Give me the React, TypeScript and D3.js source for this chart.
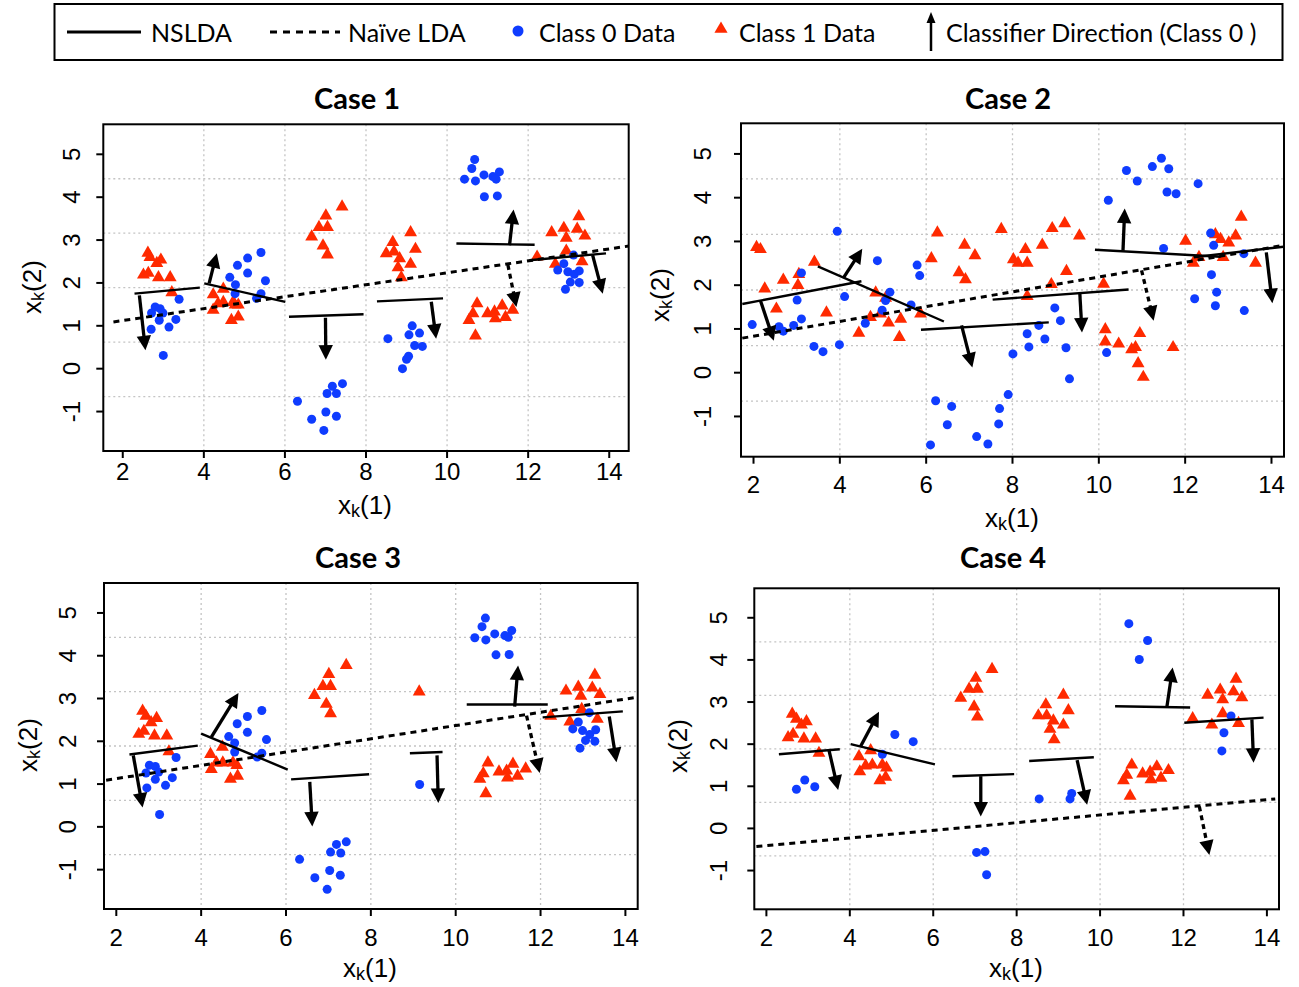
import React from "react";
import * as d3 from "d3";

type Pt = [number, number];
type Seg = [number, number, number, number];

// ---- Case 1 ----
const case1Class0: Pt[] = [
  [2.80, 1.44], [2.92, 1.40], [2.71, 1.30], [2.99, 1.30], [2.90, 1.13], [3.31, 1.15], [3.39, 1.62], [3.14, 0.97], [2.70, 0.92], [3.00, 0.31],
  [5.41, 2.71], [5.08, 2.58], [4.83, 2.41], [5.08, 2.23], [4.64, 2.13], [4.78, 1.96], [5.52, 2.05], [4.77, 1.75], [5.41, 1.75], [5.30, 1.64],
  [6.31, -0.76], [7.42, -0.35], [7.17, -0.41], [7.04, -0.58], [7.27, -0.58], [6.66, -1.18], [7.01, -1.01], [7.27, -1.11], [6.96, -1.44],
  [8.54, 0.70], [9.14, 1.00], [9.06, 0.79], [9.32, 0.83], [9.20, 0.54], [9.39, 0.52], [9.05, 0.29], [9.00, 0.22], [8.90, 0.00],
  [10.68, 4.88], [10.61, 4.67], [10.43, 4.42], [10.70, 4.38], [10.91, 4.52], [11.13, 4.48], [11.29, 4.59], [11.21, 4.42], [10.92, 4.01], [11.24, 4.03],
  [13.12, 2.65], [12.88, 2.45], [12.73, 2.30], [12.98, 2.26], [13.14, 2.20], [13.26, 2.28], [13.04, 2.02], [13.26, 2.01], [12.92, 1.85],
];
const case1Class1: Pt[] = [
  [2.62, 2.71], [2.67, 2.61], [2.84, 2.47], [2.94, 2.55], [2.51, 2.20], [2.63, 2.24], [2.88, 2.14], [3.17, 2.14], [3.21, 1.79],
  [4.23, 1.74], [4.48, 1.87], [4.23, 1.38], [4.35, 1.53], [4.48, 1.56], [4.72, 1.56], [4.77, 1.50], [4.85, 1.50], [4.68, 1.14], [4.85, 1.22],
  [7.41, 3.79], [7.01, 3.58], [6.84, 3.31], [7.05, 3.31], [6.66, 3.09], [6.94, 2.88], [7.05, 2.67],
  [8.50, 2.70], [8.66, 2.96], [8.69, 2.74], [8.83, 2.58], [9.10, 3.19], [9.22, 2.80], [9.10, 2.45], [8.79, 2.37], [8.87, 2.14],
  [10.74, 1.53], [10.64, 1.30], [10.54, 1.14], [11.00, 1.30], [11.17, 1.34], [11.36, 1.48], [11.19, 1.18], [11.44, 1.21], [11.62, 1.38], [10.70, 0.78],
  [13.25, 3.56], [12.58, 3.19], [12.88, 3.29], [13.21, 3.27], [12.94, 3.06], [13.40, 3.11], [12.22, 2.62], [12.94, 2.76], [12.67, 2.45], [13.33, 2.51],
];
const case1Nslda: Seg[] = [
  [2.29, 1.75, 3.90, 1.89], [4.01, 1.99, 6.01, 1.56], [6.10, 1.21, 7.94, 1.27],
  [8.27, 1.57, 9.90, 1.64], [10.23, 2.92, 12.16, 2.89], [12.03, 2.53, 13.92, 2.69],
];
const case1Dir: Seg[] = [
  [2.41, 1.71, 2.56, 0.43], [4.13, 1.99, 4.32, 2.69], [7.00, 1.19, 7.01, 0.21],
  [9.61, 1.56, 9.73, 0.70], [11.54, 2.88, 11.64, 3.71], [13.59, 2.65, 13.84, 1.75],
];
const case1Naive: Seg = [1.77, 1.09, 14.48, 2.86];
const case1NaiveDir: Seg = [11.50, 2.42, 11.71, 1.44];

// ---- Case 2 ----
const case2Class0: Pt[] = [
  [1.97, 1.10], [2.59, 1.05], [2.69, 0.95], [2.93, 1.08], [3.11, 1.23], [3.01, 1.66], [3.11, 2.28], [3.40, 0.60], [3.61, 0.48], [3.99, 0.64],
  [3.94, 3.23], [4.11, 1.74], [4.59, 1.13], [4.87, 2.56], [4.98, 1.43], [5.06, 1.65], [5.16, 1.84], [5.65, 1.55], [5.79, 2.46], [5.85, 2.22],
  [6.10, -1.65], [6.22, -0.64], [6.49, -1.19], [6.59, -0.77], [7.17, -1.46], [7.43, -1.63], [7.68, -1.17], [7.70, -0.82], [7.90, -0.50],
  [8.01, 0.43], [8.34, 0.89], [8.38, 0.59], [8.61, 1.08], [8.75, 0.77], [8.98, 1.48], [9.11, 1.19], [9.24, 0.57], [9.32, -0.14], [10.18, 0.46],
  [10.22, 3.94], [10.64, 4.62], [10.89, 4.38], [11.24, 4.71], [11.45, 4.90], [11.62, 4.66], [11.58, 4.13], [11.79, 4.09], [12.30, 4.32],
  [11.50, 2.84], [12.59, 3.19], [12.66, 2.91], [12.61, 2.24], [12.73, 1.84], [12.22, 1.69], [12.70, 1.53], [13.36, 2.72], [13.37, 1.42],
];
const case2Class1: Pt[] = [
  [2.07, 2.88], [2.16, 2.83], [2.26, 1.93], [2.53, 1.47], [2.69, 2.13], [3.05, 2.26], [3.03, 2.01], [3.41, 2.54], [3.69, 1.38], [4.44, 0.92],
  [4.71, 1.28], [4.83, 1.84], [4.94, 1.36], [5.06, 1.72], [5.13, 1.15], [5.41, 1.24], [5.38, 0.82], [5.87, 1.36], [6.12, 2.62], [6.26, 3.21],
  [6.76, 2.30], [6.89, 2.93], [6.91, 2.14], [7.13, 2.69], [7.74, 3.29], [8.02, 2.60], [8.30, 2.83], [8.13, 2.52], [8.34, 2.52], [8.34, 1.76],
  [8.92, 3.31], [9.21, 3.42], [9.55, 3.14], [8.69, 2.93], [8.90, 2.03], [9.25, 2.33], [10.11, 2.04], [10.15, 1.00], [10.15, 0.72], [10.46, 0.67],
  [10.76, 0.54], [10.85, 0.59], [10.95, 0.91], [10.91, 0.22], [11.03, -0.09], [11.72, 0.59], [12.01, 3.02], [12.32, 2.65], [12.19, 2.52],
  [12.70, 3.17], [12.82, 3.06], [13.01, 2.98], [13.17, 3.14], [13.30, 3.57], [12.88, 2.65], [13.63, 2.52],
];
const case2Nslda: Seg[] = [
  [1.74, 1.57, 4.50, 2.09], [3.49, 2.43, 6.41, 1.17], [5.88, 0.98, 8.84, 1.15],
  [7.54, 1.67, 10.69, 1.90], [9.91, 2.81, 12.82, 2.65], [12.20, 2.64, 14.28, 2.88],
];
const case2Dir: Seg[] = [
  [2.16, 1.65, 2.47, 0.73], [4.09, 2.18, 4.52, 2.83], [6.82, 1.08, 7.07, 0.12],
  [9.56, 1.80, 9.61, 0.92], [10.56, 2.79, 10.60, 3.75], [13.88, 2.75, 14.02, 1.59],
];
const case2Naive: Seg = [1.74, 0.79, 14.28, 2.91];
const case2NaiveDir: Seg = [10.99, 2.34, 11.27, 1.19];

// ---- Case 3 ----
const case3Class0: Pt[] = [
  [2.78, 1.44], [2.92, 1.41], [2.70, 1.26], [3.00, 1.28], [2.92, 1.11], [3.32, 1.15], [3.41, 1.62], [3.16, 0.97], [2.72, 0.91], [3.02, 0.29],
  [5.43, 2.72], [5.09, 2.58], [4.85, 2.41], [5.09, 2.21], [4.65, 2.11], [4.79, 1.96], [5.54, 2.04], [4.79, 1.75], [5.43, 1.72], [5.32, 1.63],
  [6.32, -0.76], [7.42, -0.35], [7.19, -0.41], [7.05, -0.59], [7.29, -0.61], [6.68, -1.19], [7.03, -1.02], [7.28, -1.13], [6.97, -1.46],
  [9.15, 0.99],
  [10.70, 4.88], [10.62, 4.68], [10.45, 4.42], [10.71, 4.37], [10.92, 4.51], [11.16, 4.47], [11.32, 4.59], [11.24, 4.43], [10.95, 4.02], [11.26, 4.03],
  [13.15, 2.67], [12.89, 2.45], [12.76, 2.29], [12.99, 2.25], [13.16, 2.16], [13.30, 2.27], [13.06, 2.02], [13.28, 2.00], [12.93, 1.84],
];
const case3Class1: Pt[] = [
  [2.62, 2.72], [2.70, 2.60], [2.82, 2.45], [2.95, 2.55], [2.53, 2.18], [2.65, 2.25], [2.90, 2.14], [3.19, 2.14], [3.24, 1.77],
  [4.22, 1.71], [4.50, 1.88], [4.24, 1.36], [4.36, 1.51], [4.51, 1.51], [4.75, 1.51], [4.84, 1.45], [4.69, 1.13], [4.86, 1.20],
  [7.42, 3.79], [7.01, 3.58], [6.87, 3.30], [7.05, 3.30], [6.67, 3.09], [6.95, 2.88], [7.05, 2.66],
  [9.14, 3.17],
  [10.76, 1.51], [10.65, 1.26], [10.57, 1.13], [11.02, 1.30], [11.20, 1.32], [11.35, 1.48], [11.22, 1.16], [11.46, 1.20], [11.65, 1.37], [10.71, 0.79],
  [13.28, 3.56], [12.60, 3.19], [12.89, 3.28], [13.22, 3.26], [12.95, 3.07], [13.40, 3.11], [12.24, 2.60], [12.97, 2.76], [12.69, 2.47], [13.34, 2.53],
];
const case3Nslda: Seg[] = [
  [2.31, 1.69, 3.92, 1.90], [4.00, 2.18, 6.04, 1.34], [6.12, 1.11, 7.96, 1.23],
  [8.92, 1.72, 9.69, 1.75], [10.26, 2.86, 12.17, 2.86], [12.05, 2.56, 13.94, 2.70],
];
const case3Dir: Seg[] = [
  [2.40, 1.67, 2.62, 0.45], [4.24, 2.10, 4.88, 3.13], [6.56, 1.05, 6.62, 0.01],
  [9.56, 1.67, 9.59, 0.56], [11.39, 2.81, 11.47, 3.77], [13.62, 2.58, 13.79, 1.51],
];
const case3Naive: Seg = [1.76, 1.09, 14.27, 3.03];
const case3NaiveDir: Seg = [11.67, 2.60, 11.98, 1.26];

// ---- Case 4 ----
const case4Class0: Pt[] = [
  [2.72, 0.93], [2.92, 1.15], [3.16, 0.99], [4.78, 1.76], [5.08, 2.23], [5.52, 2.06],
  [7.04, -0.57], [7.24, -0.55], [7.28, -1.10], [8.54, 0.70], [9.28, 0.70], [9.32, 0.83],
  [10.69, 4.86], [11.14, 4.46], [10.94, 4.01], [13.14, 2.67], [12.97, 2.27], [12.92, 1.84],
];
const case4Class1: Pt[] = [
  [2.62, 2.73], [2.72, 2.61], [2.84, 2.47], [2.96, 2.55], [2.52, 2.17], [2.64, 2.25], [2.90, 2.14], [3.18, 2.14], [3.26, 1.80],
  [4.22, 1.72], [4.50, 1.86], [4.24, 1.36], [4.38, 1.50], [4.54, 1.52], [4.78, 1.52], [4.88, 1.45], [4.72, 1.15], [4.86, 1.23],
  [7.41, 3.79], [7.02, 3.58], [6.86, 3.32], [7.06, 3.32], [6.66, 3.11], [6.98, 2.90], [7.06, 2.66],
  [9.12, 3.18], [8.70, 2.95], [8.52, 2.69], [8.72, 2.69], [9.24, 2.81], [8.88, 2.57], [9.12, 2.47], [8.80, 2.37], [8.90, 2.12],
  [10.76, 1.52], [10.64, 1.28], [10.56, 1.15], [11.02, 1.31], [11.20, 1.35], [11.36, 1.48], [11.22, 1.17], [11.46, 1.21], [11.64, 1.39], [10.72, 0.78],
  [13.26, 3.56], [12.58, 3.18], [12.88, 3.30], [13.20, 3.26], [12.94, 3.07], [13.40, 3.12], [12.22, 2.62], [12.94, 2.74], [12.68, 2.47], [13.32, 2.51],
];
const case4Nslda: Seg[] = [
  [2.30, 1.76, 3.76, 1.88], [4.02, 2.00, 6.04, 1.52], [6.46, 1.24, 7.94, 1.29],
  [8.30, 1.60, 9.85, 1.69], [10.36, 2.90, 12.16, 2.87], [12.02, 2.51, 13.92, 2.63],
];
const case4Dir: Seg[] = [
  [3.50, 1.86, 3.72, 0.91], [4.26, 1.95, 4.70, 2.77], [7.14, 1.24, 7.14, 0.28],
  [9.45, 1.62, 9.69, 0.56], [11.60, 2.87, 11.74, 3.82], [13.64, 2.59, 13.68, 1.56],
];
const case4Naive: Seg = [1.76, -0.43, 14.20, 0.70];
const case4NaiveDir: Seg = [12.38, 0.52, 12.62, -0.63];

const xTicks = [2, 4, 6, 8, 10, 12, 14];
const yTicks = [-1, 0, 1, 2, 3, 4, 5];
const xGrid = [4, 6, 8, 10, 12];
const legendLabels = ["NSLDA", "Naïve LDA", "Class 0 Data", "Class 1 Data", "Classifier Direction (Class 0 )"];

const BLUE = "#0f3cff";
const RED = "#ff2a00";
const SANS = "'Liberation Sans', Arial, sans-serif";
const CAL = "Lato, 'Open Sans', sans-serif";

const panels = [
  { title: "Case 1", x0: 103.3, x1: 628.7, y0: 124.3, y1: 451, xDom: [1.52, 14.48],
    tx: 357, ty: 97, xtY: 471, xlX: 365, xlY: 505, ytX: 71.5, ylX: 32, ylY: 287,
    c0: case1Class0, c1: case1Class1, seg: case1Nslda, dir: case1Dir, naive: case1Naive, ndir: case1NaiveDir },
  { title: "Case 2", x0: 741, x1: 1284, y0: 123.3, y1: 456.7, xDom: [1.71, 14.29],
    tx: 1008, ty: 97, xtY: 484, xlX: 1012, xlY: 518, ytX: 702, ylX: 660, ylY: 295,
    c0: case2Class0, c1: case2Class1, seg: case2Nslda, dir: case2Dir, naive: case2Naive, ndir: case2NaiveDir },
  { title: "Case 3", x0: 104, x1: 637.7, y0: 583, y1: 909, xDom: [1.71, 14.29],
    tx: 358, ty: 556, xtY: 937, xlX: 370, xlY: 968, ytX: 67, ylX: 28, ylY: 745,
    c0: case3Class0, c1: case3Class1, seg: case3Nslda, dir: case3Dir, naive: case3Naive, ndir: case3NaiveDir },
  { title: "Case 4", x0: 754.3, x1: 1279, y0: 588.3, y1: 909.3, xDom: [1.71, 14.29],
    tx: 1003, ty: 556, xtY: 937, xlX: 1016, xlY: 968, ytX: 718, ylX: 678, ylY: 746,
    c0: case4Class0, c1: case4Class1, seg: case4Nslda, dir: case4Dir, naive: case4Naive, ndir: case4NaiveDir },
];

const triPath = d3.symbol(d3.symbolTriangle, 72)() as string;

function Arrow({ x1, y1, x2, y2, dashed = false, width = 3.3, head = 14.5, half = 7.2 }) {
  const dx = x2 - x1, dy = y2 - y1;
  const L = Math.hypot(dx, dy);
  const ux = dx / L, uy = dy / L;
  const bx = x2 - ux * head, by = y2 - uy * head;
  const pts = [[x2, y2], [bx - uy * half, by + ux * half], [bx + uy * half, by - ux * half]];
  return (
    <g>
      <line x1={x1} y1={y1} x2={bx + ux * 2} y2={by + uy * 2} stroke="black" strokeWidth={width}
        strokeDasharray={dashed ? "5,4" : undefined} />
      <polygon points={pts.map((p) => p.join(",")).join(" ")} fill="black" />
    </g>
  );
}

function Axlabel({ x, y, n, rotate = false }) {
  return (
    <text transform={`translate(${x},${y})${rotate ? " rotate(-90)" : ""}`} textAnchor="middle"
      dominantBaseline="central" fontFamily={SANS} fontSize={26}>
      x<tspan fontSize={18} dy={6}>k</tspan><tspan dy={-6}>({n})</tspan>
    </text>
  );
}

function Panel({ p }) {
  const x = d3.scaleLinear().domain(p.xDom).range([p.x0, p.x1]);
  const y = d3.scaleLinear().domain([-1.92, 5.70]).range([p.y1, p.y0]);
  const hGrid = d3.range(1, 6).map((k) => p.y0 + (k * (p.y1 - p.y0)) / 6);
  return (
    <g>
      {xGrid.map((v) => (
        <line key={"gx" + v} x1={x(v)} x2={x(v)} y1={p.y0} y2={p.y1} stroke="#c4c4c4" strokeWidth={1.3} strokeDasharray="2,3" />
      ))}
      {hGrid.map((gy, i) => (
        <line key={"gy" + i} x1={p.x0} x2={p.x1} y1={gy} y2={gy} stroke="#c4c4c4" strokeWidth={1.3} strokeDasharray="2,3" />
      ))}
      {p.c1.map((d, i) => (
        <path key={"r" + i} d={triPath} transform={`translate(${x(d[0])},${y(d[1]) + 0.5})`} fill={RED} />
      ))}
      {p.c0.map((d, i) => (
        <circle key={"b" + i} cx={x(d[0])} cy={y(d[1])} r={4.5} fill={BLUE} />
      ))}
      <line x1={x(p.naive[0])} y1={y(p.naive[1])} x2={x(p.naive[2])} y2={y(p.naive[3])} stroke="black" strokeWidth={3} strokeDasharray="6,5" />
      <Arrow x1={x(p.ndir[0])} y1={y(p.ndir[1])} x2={x(p.ndir[2])} y2={y(p.ndir[3])} dashed />
      {p.seg.map((s, i) => (
        <line key={"s" + i} x1={x(s[0])} y1={y(s[1])} x2={x(s[2])} y2={y(s[3])} stroke="black" strokeWidth={2.4} />
      ))}
      {p.dir.map((s, i) => (
        <Arrow key={"a" + i} x1={x(s[0])} y1={y(s[1])} x2={x(s[2])} y2={y(s[3])} />
      ))}
      <rect x={p.x0} y={p.y0} width={p.x1 - p.x0} height={p.y1 - p.y0} fill="none" stroke="black" strokeWidth={2} />
      {xTicks.map((v) => (
        <g key={"xt" + v}>
          <line x1={x(v)} x2={x(v)} y1={p.y1} y2={p.y1 + 7} stroke="black" strokeWidth={2} />
          <text x={x(v)} y={p.xtY} textAnchor="middle" dominantBaseline="central" fontFamily={SANS} fontSize={24}>{v}</text>
        </g>
      ))}
      {yTicks.map((v) => (
        <g key={"yt" + v}>
          <line x1={p.x0 - 7} x2={p.x0} y1={y(v)} y2={y(v)} stroke="black" strokeWidth={2} />
          <text transform={`translate(${p.ytX},${y(v)}) rotate(-90)`} textAnchor="middle" dominantBaseline="central"
            fontFamily={SANS} fontSize={24}>{v}</text>
        </g>
      ))}
      <text x={p.tx} y={p.ty} textAnchor="middle" dominantBaseline="central" fontFamily={CAL} fontWeight="bold" fontSize={29}>{p.title}</text>
      <Axlabel x={p.xlX} y={p.xlY} n={1} />
      <Axlabel x={p.ylX} y={p.ylY} n={2} rotate />
    </g>
  );
}

function Legend() {
  const fs = 25;
  return (
    <g fontFamily={CAL} fontSize={fs}>
      <rect x={54.5} y={4} width={1228} height={56} fill="white" stroke="black" strokeWidth={2} />
      <line x1={67} x2={141} y1={32} y2={32} stroke="black" strokeWidth={3} />
      <text x={151} y={32} dominantBaseline="central">{legendLabels[0]}</text>
      <line x1={270} x2={340} y1={32} y2={32} stroke="black" strokeWidth={3} strokeDasharray="7,6" />
      <text x={348} y={32} dominantBaseline="central">{legendLabels[1]}</text>
      <circle cx={518} cy={31} r={5.5} fill={BLUE} />
      <text x={539} y={32} dominantBaseline="central">{legendLabels[2]}</text>
      <path d={d3.symbol(d3.symbolTriangle, 75)() as string} transform="translate(721,29)" fill={RED} />
      <text x={739} y={32} dominantBaseline="central">{legendLabels[3]}</text>
      <Arrow x1={931} y1={51} x2={931} y2={12} width={2.5} head={11} half={4.5} />
      <text x={946} y={32} dominantBaseline="central">{legendLabels[4]}</text>
    </g>
  );
}

export default function App() {
  return (
    <svg width={1299} height={987} style={{ position: "absolute", left: 0, top: 0, background: "white" }}>
      <rect width={1299} height={987} fill="white" />
      <Legend />
      {panels.map((p) => (
        <Panel key={p.title} p={p} />
      ))}
    </svg>
  );
}
